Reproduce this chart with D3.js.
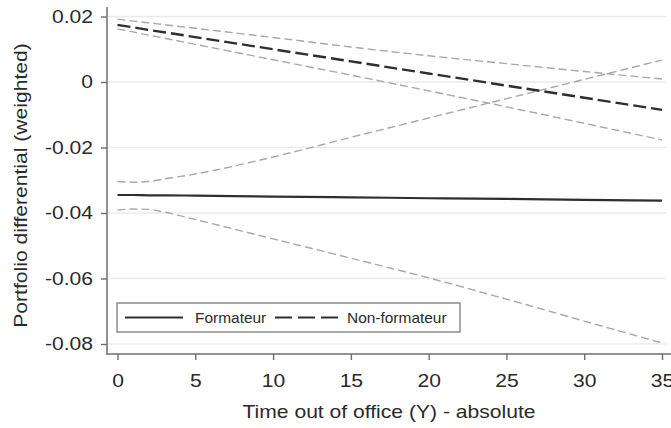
<!DOCTYPE html>
<html>
<head>
<meta charset="utf-8">
<script src="https://cdn.jsdelivr.net/npm/d3@7"></script>
<style>
  body { margin: 0; background: #fff; }
  text { font-family: "Liberation Sans", Arial, sans-serif; fill: #2a2a2a; }
</style>
</head>
<body>
<div id="chart-container"></div>
<script>
// years out of office
const years = [0, 1, 2, 3, 5, 10, 15, 20, 25, 30, 35];

// Formateur: prediction and 95% CI
const formateur = [-0.0345, -0.0345, -0.0346, -0.0346, -0.0347, -0.0350, -0.0352, -0.0355, -0.0357, -0.0360, -0.0362];
const formateurHi = [-0.0304, -0.0306, -0.0304, -0.0296, -0.0281, -0.0229, -0.0169, -0.0110, -0.0051, 0.0008, 0.0067];
const formateurLo = [-0.0391, -0.0388, -0.0389, -0.0397, -0.0420, -0.0479, -0.0538, -0.0598, -0.0663, -0.0730, -0.0797];

// Non-formateur: prediction and 95% CI
const nonFormateur = [0.0174, 0.0167, 0.0159, 0.0152, 0.0137, 0.0100, 0.0063, 0.0026, -0.0011, -0.0048, -0.0085];
const nonFormateurHi = [0.0192, 0.0186, 0.0181, 0.0175, 0.0164, 0.0136, 0.0107, 0.0080, 0.0056, 0.0032, 0.0009];
const nonFormateurLo = [0.0162, 0.0153, 0.0143, 0.0134, 0.0115, 0.0068, 0.0021, -0.0027, -0.0076, -0.0126, -0.0177];

const xTicks = [0, 5, 10, 15, 20, 25, 30, 35];
const yTicks = [0.02, 0, -0.02, -0.04, -0.06, -0.08];
const legendLabels = ['Formateur', 'Non-formateur'];

window.onload = () => {
  const width = 671;
  const height = 428;
  const axisColor = '#6e6e6e';

  const svg = d3.select('div#chart-container')
    .append('svg')
    .attr('width', width)
    .attr('height', height);

  const x = d3.scaleLinear().domain([0, 35]).range([117.5, 662]);
  const y = d3.scaleLinear().domain([-0.08, 0.02]).range([344, 16.5]);

  // gridlines
  svg.append('g')
    .selectAll('line')
    .data(yTicks)
    .enter()
    .append('line')
    .attr('x1', 108)
    .attr('x2', 666)
    .attr('y1', d => y(d))
    .attr('y2', d => y(d))
    .attr('stroke', '#eaeaea')
    .attr('stroke-width', 1.3);

  const fmt = d => (d === 0 ? '0' : d3.format('.2f')(d).replace('−', '-'));

  const yAxis = svg.append('g')
    .attr('class', 'yaxis')
    .attr('transform', 'translate(107,0)')
    .call(d3.axisLeft(y).tickValues(yTicks).tickFormat(fmt).tickSize(6).tickPadding(8));

  const xAxis = svg.append('g')
    .attr('class', 'xaxis')
    .attr('transform', 'translate(0,354)')
    .call(d3.axisBottom(x).tickValues(xTicks).tickSize(6).tickPadding(14));

  [yAxis, xAxis].forEach(ax => {
    ax.select('.domain').remove();
    ax.selectAll('.tick line').attr('stroke', axisColor).attr('stroke-width', 1.4);
    ax.selectAll('.tick text').style('font-size', '18.5px').attr('fill', '#2a2a2a');
  });

  // axis lines
  svg.append('line')
    .attr('x1', 107).attr('x2', 107).attr('y1', 7).attr('y2', 354.7)
    .attr('stroke', axisColor).attr('stroke-width', 1.5);
  svg.append('line')
    .attr('x1', 106.3).attr('x2', 671).attr('y1', 354).attr('y2', 354)
    .attr('stroke', axisColor).attr('stroke-width', 1.5);

  const line = vals => d3.line()
    .x((d, i) => x(years[i]))
    .y(d => y(d))
    .curve(d3.curveMonotoneX)(vals);

  // confidence bands
  [formateurHi, formateurLo, nonFormateurHi, nonFormateurLo].forEach(s => {
    svg.append('path')
      .attr('d', line(s))
      .attr('fill', 'none')
      .attr('stroke', '#a8a8a8')
      .attr('stroke-width', 1.4)
      .attr('stroke-dasharray', '8,4');
  });

  svg.append('path')
    .attr('d', line(formateur))
    .attr('fill', 'none')
    .attr('stroke', '#2e2e2e')
    .attr('stroke-width', 2.2);

  svg.append('path')
    .attr('d', line(nonFormateur))
    .attr('fill', 'none')
    .attr('stroke', '#2e2e2e')
    .attr('stroke-width', 2.4)
    .attr('stroke-dasharray', '13,5');

  // legend
  const legend = svg.append('g');
  legend.append('rect')
    .attr('x', 117).attr('y', 303)
    .attr('width', 343).attr('height', 29)
    .attr('fill', '#fff')
    .attr('stroke', '#7a7a7a')
    .attr('stroke-width', 1.3);
  legend.append('line')
    .attr('x1', 125).attr('x2', 183).attr('y1', 317.5).attr('y2', 317.5)
    .attr('stroke', '#2e2e2e').attr('stroke-width', 2);
  legend.append('line')
    .attr('x1', 275).attr('x2', 338).attr('y1', 317.5).attr('y2', 317.5)
    .attr('stroke', '#2e2e2e').attr('stroke-width', 2)
    .attr('stroke-dasharray', '17,6');
  legend.selectAll('text')
    .data(legendLabels)
    .enter()
    .append('text')
    .attr('x', (d, i) => (i === 0 ? 195 : 347))
    .attr('y', 322.5)
    .style('font-size', '15px')
    .text(d => d);

  // axis titles
  svg.append('text')
    .attr('x', 389)
    .attr('y', 418)
    .attr('text-anchor', 'middle')
    .style('font-size', '18.5px')
    .text('Time out of office (Y) - absolute');

  svg.append('text')
    .attr('transform', 'translate(27,185.5) rotate(-90)')
    .attr('text-anchor', 'middle')
    .style('font-size', '18.5px')
    .text('Portfolio differential (weighted)');

  // the original type runs a little wider than Liberation Sans
  svg.selectAll('text').each(function() {
    const stretch = this.parentNode === legend.node() ? 1.03 : 1.14;
    const w = this.getComputedTextLength();
    d3.select(this).attr('textLength', w * stretch).attr('lengthAdjust', 'spacingAndGlyphs');
  });
};
</script>
</body>
</html>
